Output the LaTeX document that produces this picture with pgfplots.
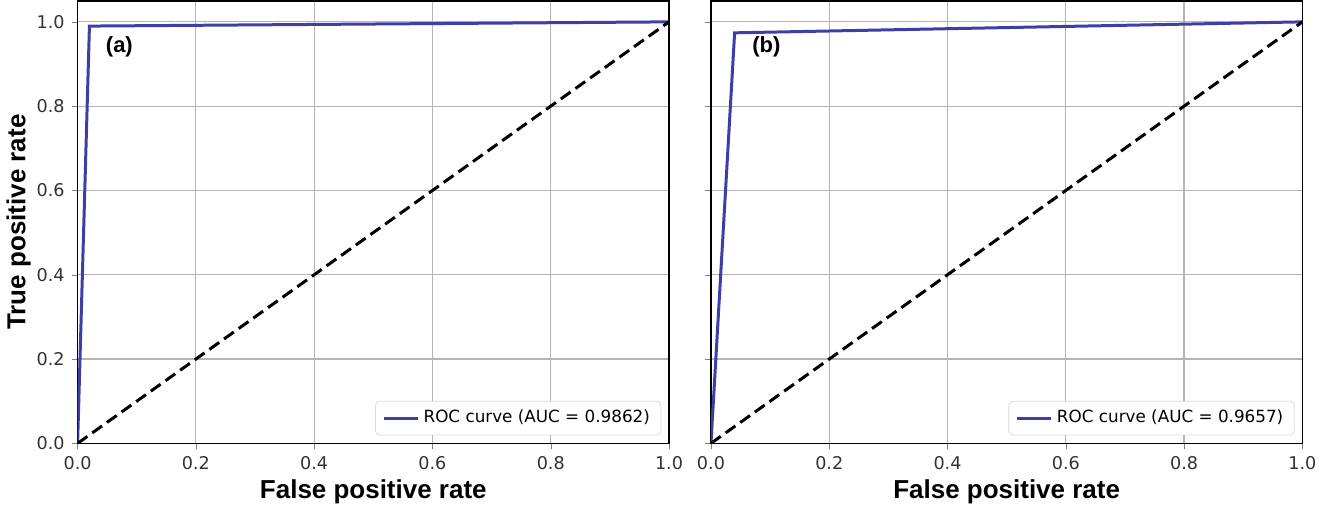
\documentclass[border=0pt]{standalone}
\usepackage{pgfplots}
\pgfplotsset{compat=1.18}
\usepackage{fontspec}
\setmainfont{Liberation Sans}
\newfontfamily\dejavu{DejaVu Sans}
\definecolor{roc}{RGB}{62,62,168}
\definecolor{gridgray}{RGB}{180,180,180}

\pgfplotsset{
  rocax/.style={
    scale only axis,
    width=296pt, height=221.5pt,
    xmin=0, xmax=1, ymin=0, ymax=1.05,
    xtick={0,0.2,...,1.0}, ytick={0,0.2,...,1.0},
    xticklabel style={/pgf/number format/.cd,fixed,fixed zerofill,precision=1},
    yticklabel style={/pgf/number format/.cd,fixed,fixed zerofill,precision=1},
    /pgf/number format/assume math mode=true,
    tick label style={font=\dejavu\fontsize{8.8}{10}\selectfont, text=black!80},
    tick align=outside, tick pos=left,
    major tick length=3pt,
    grid=major,
    grid style={gridgray, line width=0.6pt},
    axis line style={black, line width=0.8pt},
    label style={font=\bfseries\fontsize{13}{15}\selectfont},
    xlabel={False positive rate},
    xlabel style={yshift=2pt},
    legend style={
      at={(0.987,0.018)}, anchor=south east,
      font=\dejavu\fontsize{8.4}{10}\selectfont,
      draw=black!15, rounded corners=2pt, fill=white,
      inner xsep=3.5pt, inner ysep=2.5pt,
    },
    legend cell align=left,
    legend image post style={line width=1.5pt},
  },
}

\begin{document}
\begin{tikzpicture}
\begin{axis}[rocax, name=a, at={(0,0)},
    ylabel={True positive rate}, ylabel style={yshift=-4pt}]
\addplot[roc, line width=1.5pt] coordinates {(0,0) (0.02,0.99) (1,1)};
\addlegendentry{ROC curve (AUC = 0.9862)}
\addplot[black, line width=1.5pt, dash pattern=on 6pt off 3pt, forget plot] coordinates {(0,0) (1,1)};
\node[anchor=west, font=\bfseries\fontsize{11}{13}\selectfont] at (axis cs:0.036,0.94) {(a)};
\end{axis}
\begin{axis}[rocax, name=b, at={(317pt,0)}, yticklabels={}]
\addplot[roc, line width=1.5pt] coordinates {(0,0) (0.04,0.974) (1,1)};
\addlegendentry{ROC curve (AUC = 0.9657)}
\addplot[black, line width=1.5pt, dash pattern=on 6pt off 3pt, forget plot] coordinates {(0,0) (1,1)};
\node[anchor=west, font=\bfseries\fontsize{11}{13}\selectfont] at (axis cs:0.058,0.94) {(b)};
\end{axis}
\end{tikzpicture}
\end{document}
